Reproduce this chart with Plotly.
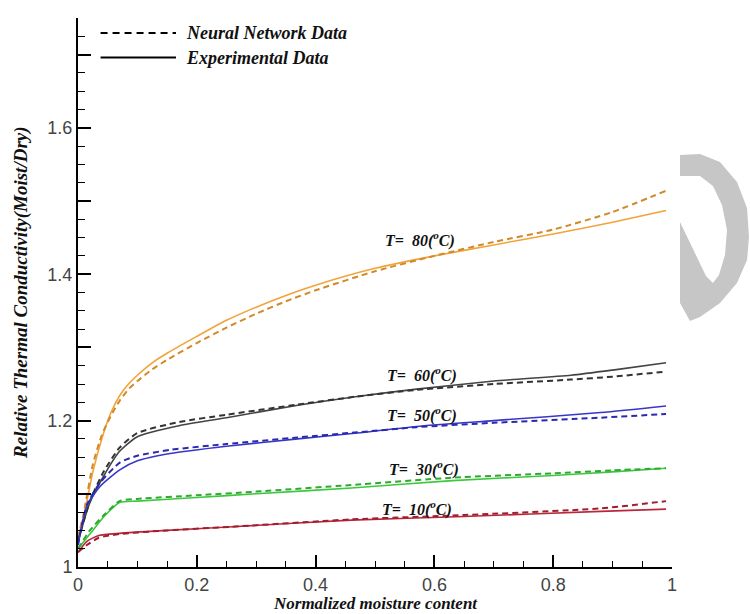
import plotly.graph_objects as go

# ---- data ----
x80 = [0, 0.01, 0.025, 0.04, 0.055, 0.07, 0.085, 0.1, 0.125, 0.15, 0.2, 0.25, 0.3, 0.35, 0.4, 0.5, 0.6, 0.7, 0.8, 0.9, 0.99]
exp80 = [1.04, 1.07, 1.13, 1.175, 1.21, 1.234, 1.25, 1.262, 1.279, 1.292, 1.315, 1.337, 1.355, 1.371, 1.385, 1.408, 1.425, 1.44, 1.455, 1.471, 1.487]
nn80 = [1.04, 1.075, 1.14, 1.18, 1.206, 1.227, 1.243, 1.254, 1.27, 1.283, 1.306, 1.327, 1.346, 1.363, 1.378, 1.404, 1.425, 1.444, 1.461, 1.485, 1.514]

x60 = [0, 0.02, 0.043, 0.07, 0.1, 0.17, 0.25, 0.37, 0.47, 0.57, 0.7, 0.83, 0.9, 0.99]
exp60 = [1.035, 1.088, 1.124, 1.158, 1.178, 1.193, 1.204, 1.221, 1.233, 1.243, 1.254, 1.262, 1.269, 1.279]
nn60 = [1.035, 1.09, 1.13, 1.163, 1.183, 1.198, 1.208, 1.222, 1.233, 1.242, 1.25, 1.256, 1.26, 1.267]

x50 = [0, 0.015, 0.037, 0.071, 0.1, 0.155, 0.25, 0.37, 0.47, 0.57, 0.7, 0.88, 0.99]
exp50 = [1.03, 1.083, 1.11, 1.133, 1.145, 1.155, 1.165, 1.175, 1.183, 1.192, 1.2, 1.211, 1.22]
nn50 = [1.03, 1.085, 1.115, 1.143, 1.152, 1.16, 1.168, 1.177, 1.184, 1.191, 1.197, 1.204, 1.209]

x30 = [0, 0.02, 0.045, 0.07, 0.1, 0.2, 0.3, 0.46, 0.63, 0.8, 0.9, 0.99]
exp30 = [1.025, 1.045, 1.07, 1.088, 1.09, 1.095, 1.1, 1.108, 1.118, 1.125, 1.13, 1.135]
nn30 = [1.025, 1.05, 1.072, 1.09, 1.093, 1.098, 1.103, 1.112, 1.122, 1.128, 1.132, 1.135]

x10 = [0, 0.015, 0.035, 0.07, 0.15, 0.26, 0.46, 0.65, 0.88, 0.99]
exp10 = [1.02, 1.035, 1.043, 1.046, 1.05, 1.055, 1.064, 1.069, 1.076, 1.079]
nn10 = [1.02, 1.03, 1.04, 1.045, 1.05, 1.055, 1.065, 1.071, 1.08, 1.09]

labels = ["T=&nbsp; 80(<sup>o</sup>C)", "T=&nbsp; 60(<sup>o</sup>C)", "T=&nbsp; 50(<sup>o</sup>C)",
          "T=&nbsp; 30(<sup>o</sup>C)", "T=&nbsp; 10(<sup>o</sup>C)"]
label_x = [0.513, 0.517, 0.517, 0.52, 0.508]
label_y = [1.448, 1.263, 1.208, 1.135, 1.08]

ytick_vals = [1.0, 1.1, 1.2, 1.3, 1.4, 1.5, 1.6, 1.7]
ytick_text = ["1", "", "1.2", "", "1.4", "", "1.6", ""]

legend_names = ["Neural Network Data", "Experimental Data"]
x_title = "Normalized moisture content"
y_title = "Relative Thermal Conductivity(Moist/Dry)"

# ---- figure ----
series = [
    (x80, exp80, nn80, "#F2A33A", "#D08A2A"),
    (x60, exp60, nn60, "#444444", "#333333"),
    (x50, exp50, nn50, "#3838C8", "#2A2AB0"),
    (x30, exp30, nn30, "#3CC83C", "#2EAA2E"),
    (x10, exp10, nn10, "#B8283A", "#A01E30"),
]

fig = go.Figure()
for xs, ye, yn, ce, cn in series:
    fig.add_trace(go.Scatter(x=xs, y=ye, mode="lines", line=dict(color=ce, width=1.6, shape="spline", smoothing=0.6),
                             showlegend=False, hoverinfo="skip"))
    fig.add_trace(go.Scatter(x=xs, y=yn, mode="lines", line=dict(color=cn, width=2, dash="6px,4px", shape="spline", smoothing=0.6),
                             showlegend=False, hoverinfo="skip"))

serif = "Liberation Serif, Times New Roman, serif"
sans = "Liberation Sans, Arial, sans-serif"

def sfont(size):
    return dict(family=serif, size=size, color="#111", weight="bold", style="italic")

annotations = []
for t, lx, ly in zip(labels, label_x, label_y):
    annotations.append(dict(x=lx, y=ly, xref="x", yref="y", text=t, showarrow=False, xanchor="left", yanchor="middle",
                            font=sfont(16)))

# axis titles
annotations.append(dict(x=0.5, y=-0.067, xref="paper", yref="paper", text=x_title, showarrow=False,
                        xanchor="center", yanchor="middle", font=sfont(17)))
annotations.append(dict(x=-0.097, y=0.5, xref="paper", yref="paper", text=y_title, showarrow=False,
                        textangle=-90, xanchor="center", yanchor="middle", font=sfont(19)))

# manual legend (paper coordinates)
leg_y = [0.9727, 0.928]
leg_dash = ["7px,5px", "solid"]
shapes = []
for ly, d, name in zip(leg_y, leg_dash, legend_names):
    shapes.append(dict(type="line", xref="paper", yref="paper", x0=0.038, x1=0.165, y0=ly, y1=ly,
                       line=dict(color="black", width=2, dash=d)))
    annotations.append(dict(x=0.178, y=ly, xref="paper", yref="paper", text=name, showarrow=False,
                            xanchor="left", yanchor="middle", font=sfont(18)))

# watermark crescent (decorative, paper coords from pixel geometry)
def P(px, py):
    return f"{(px-78)/594:.4f},{(567-py)/549:.4f}"

outer = [(680,155),(700,154),(720,162),(737,182),(747,208),(749,237),(747,260),(737,283),(720,303),(700,317),(690,321),(680,303)]
inner = [(680,176),(700,176),(713,186),(722,205),(727,230),(725,255),(719,275),(713,283),(706,276),(680,222)]
path = "M " + " L ".join(P(*p) for p in outer) + " Z M " + " L ".join(P(*p) for p in inner) + " Z"
shapes.append(dict(type="path", xref="paper", yref="paper", path=path, fillcolor="#C6C6C6",
                   line=dict(width=0), fillrule="evenodd", layer="below"))

fig.update_layout(
    width=750, height=614, autosize=False,
    margin=dict(l=78, r=78, t=18, b=47),
    paper_bgcolor="white", plot_bgcolor="white",
    showlegend=False,
    shapes=shapes, annotations=annotations,
    xaxis=dict(range=[0, 1], showline=True, linecolor="black", linewidth=2, showgrid=False, zeroline=False,
               automargin=False,
               ticks="inside", ticklen=12, tickwidth=2, tickcolor="black", dtick=0.2, tick0=0,
               minor=dict(ticks="inside", ticklen=6, tickwidth=1, dtick=0.05, tickcolor="black", showgrid=False),
               tickfont=dict(family=sans, size=18, color="#444")),
    yaxis=dict(range=[1, 1.75], showline=True, linecolor="black", linewidth=2, showgrid=False, zeroline=False,
               automargin=False,
               ticks="inside", ticklen=13, tickwidth=2, tickcolor="black",
               tickmode="array", tickvals=ytick_vals, ticktext=ytick_text,
               minor=dict(ticks="inside", ticklen=7, tickwidth=1, dtick=0.025, tickcolor="black", showgrid=False),
               tickfont=dict(family=sans, size=18, color="#444")),
)

fig.write_html("out.html")
